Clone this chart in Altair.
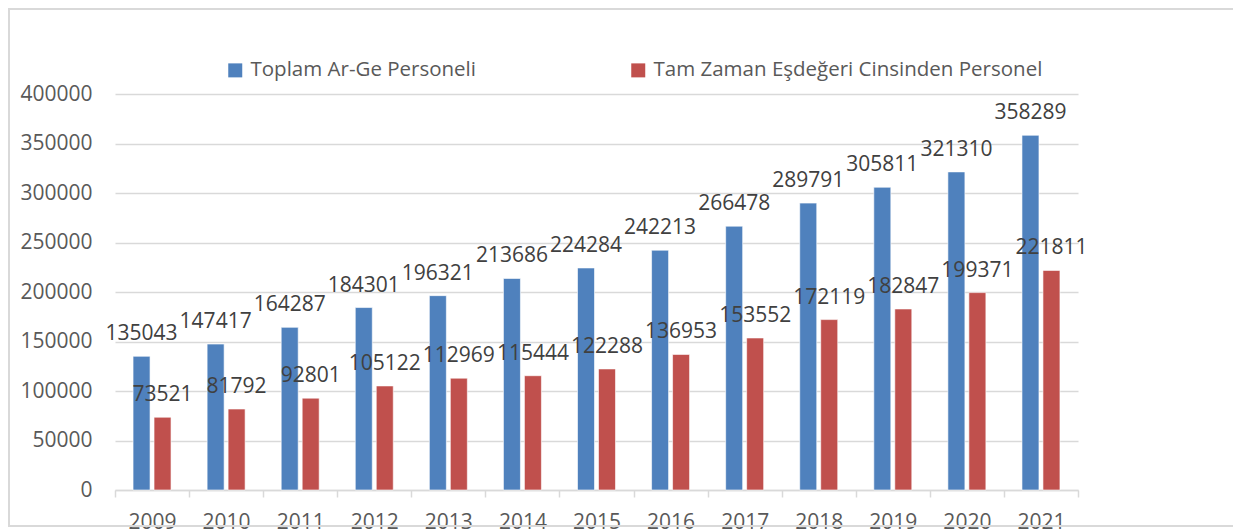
import altair as alt
import pandas as pd

years = ["2009", "2010", "2011", "2012", "2013", "2014", "2015",
         "2016", "2017", "2018", "2019", "2020", "2021"]
toplam = [135043, 147417, 164287, 184301, 196321, 213686, 224284,
          242213, 266478, 289791, 305811, 321310, 358289]
tam_zaman = [73521, 81792, 92801, 105122, 112969, 115444, 122288,
             136953, 153552, 172119, 182847, 199371, 221811]
series = ["Toplam Ar-Ge Personeli", "Tam Zaman Eşdeğeri Cinsinden Personel"]
colors = ["#4F81BD", "#C0504D"]

rows = []
for i, yr in enumerate(years):
    rows.append({"Yıl": yr, "Seri": series[0], "Değer": toplam[i]})
    rows.append({"Yıl": yr, "Seri": series[1], "Değer": tam_zaman[i]})
df = pd.DataFrame(rows)

W, H = 963, 396
PL, PT = 107, 86
TOTAL_W, TOTAL_H = 1225, 522

x_enc = alt.X("Yıl:N", sort=years, title=None,
              scale=alt.Scale(paddingInner=0, paddingOuter=0),
              axis=alt.Axis(labelAngle=0, labelFontSize=21, labelColor="#595959",
                            labelPadding=14, tickBand="extent", ticks=True,
                            tickSize=7, tickColor="#d9d9d9", tickWidth=1.5,
                            domainColor="#d9d9d9", domainWidth=1.5, grid=False))
xoff_enc = alt.XOffset("Seri:N", sort=series,
                       scale=alt.Scale(paddingInner=0.19, paddingOuter=0.86))
y_enc = alt.Y("Değer:Q", title=None,
              scale=alt.Scale(domain=[0, 400000], nice=False),
              axis=alt.Axis(values=list(range(0, 400001, 50000)), format="d",
                            labelFontSize=21, labelColor="#595959", labelPadding=23,
                            ticks=False, domain=False, gridColor="#d9d9d9",
                            gridWidth=1.5))

bars = alt.Chart(df).mark_bar(stroke="#ffffff", strokeWidth=0.6).encode(
    x=x_enc, xOffset=xoff_enc, y=y_enc,
    color=alt.Color("Seri:N", sort=series,
                    scale=alt.Scale(domain=series, range=colors),
                    legend=alt.Legend(title=None, orient="none", direction="horizontal",
                                      legendX=110, legendY=-34,
                                      symbolType="square", symbolSize=196,
                                      symbolStrokeWidth=0, labelFontSize=20.5,
                                      labelColor="#595959", labelOffset=5,
                                      columnPadding=152, labelLimit=600))
)

labels = alt.Chart(df).mark_text(fontSize=21, color="#404040", baseline="alphabetic",
                                 dy=-16).encode(
    x=alt.X("Yıl:N", sort=years), xOffset=alt.XOffset("Seri:N", sort=series),
    y="Değer:Q", text=alt.Text("Değer:Q", format="d"))

one = pd.DataFrame({"a": [0]})
frame_left = alt.Chart(one).mark_rule(color="#d9d9d9", strokeWidth=2).encode(
    x=alt.value(-106), y=alt.value(-85), y2=alt.value(432))
frame_top = alt.Chart(one).mark_rule(color="#d9d9d9", strokeWidth=2).encode(
    x=alt.value(-107), x2=alt.value(TOTAL_W - PL), y=alt.value(-85))
frame_bottom = alt.Chart(one).mark_rule(color="#d9d9d9", strokeWidth=2).encode(
    x=alt.value(-107), x2=alt.value(TOTAL_W - PL), y=alt.value(432))

chart = alt.layer(bars, labels, frame_left, frame_top, frame_bottom).properties(
    width=W, height=H,
    autosize=alt.AutoSizeParams(type="none"),
    padding={"left": PL, "top": PT, "right": TOTAL_W - PL - W, "bottom": TOTAL_H - PT - H},
).configure(font="Open Sans").configure_view(stroke=None)

chart.save("out.html", embed_options={"renderer": "svg", "actions": False})
